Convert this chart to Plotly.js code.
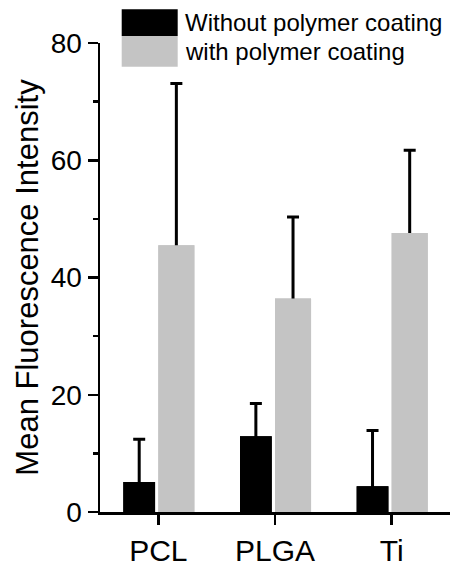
<!DOCTYPE html>
<html>
<head>
<meta charset="utf-8">
<script src="https://cdn.plot.ly/plotly-3.0.1.min.js"></script>
<style>html,body{margin:0;padding:0;background:#fff;}#chart{width:450px;height:565px;}</style>
</head>
<body>
<div id="chart"></div>
<script>
const categories = ['PCL', 'PLGA', 'Ti'];
const seriesNames = ['Without polymer coating', 'with polymer coating'];
const withoutValues = [5.1, 12.9, 4.4];
const withoutErrors = [7.3, 5.6, 9.5];
const withValues = [45.5, 36.4, 47.6];
const withErrors = [27.6, 13.9, 14.1];
const yTickValues = [0, 20, 40, 60, 80];

const FONT = 'Liberation Sans, Arial, sans-serif';
const BLACK = '#000000';
const GRAY = '#c4c4c4';

const blackGeom = {offset: -0.30, width: 0.272};
const grayGeom = {offset: 0.0, width: 0.309};

function errBar(plus, minus) {
  return {type: 'data', symmetric: false, array: plus, arrayminus: minus,
          color: BLACK, thickness: 3, width: 6};
}

const traces = [
  // bars carrying error bars (stems reach down to the axis, hidden by overlay bars)
  Object.assign({type: 'bar', x: categories, y: withoutValues, name: seriesNames[0],
    marker: {color: BLACK}, error_y: errBar(withoutErrors, withoutValues), showlegend: false, hoverinfo: 'skip'}, blackGeom),
  Object.assign({type: 'bar', x: categories, y: withValues, name: seriesNames[1],
    marker: {color: GRAY}, error_y: errBar(withErrors, withValues), showlegend: false, hoverinfo: 'skip'}, grayGeom),
  // overlay bars
  Object.assign({type: 'bar', x: categories, y: withoutValues, name: seriesNames[0],
    marker: {color: BLACK}, showlegend: false}, blackGeom),
  Object.assign({type: 'bar', x: categories, y: withValues, name: seriesNames[1],
    marker: {color: GRAY}, showlegend: false}, grayGeom)
];

const layout = {
  width: 450, height: 565,
  margin: {l: 100, r: 0, t: 43, b: 53, pad: 0},
  paper_bgcolor: '#ffffff', plot_bgcolor: '#ffffff',
  font: {family: FONT, color: BLACK, size: 28},
  barmode: 'overlay',
  showlegend: false,
  xaxis: {
    type: 'category', range: [-0.5, 2.5],
    showline: true, linecolor: BLACK, linewidth: 2.5,
    ticks: 'outside', ticklen: 10, tickwidth: 2.5, tickcolor: BLACK,
    showgrid: false, zeroline: false, automargin: false,
    tickfont: {family: FONT, size: 30, color: BLACK}
  },
  yaxis: {
    range: [0, 80], tickvals: yTickValues, ticktext: yTickValues.map(String),
    showline: true, linecolor: BLACK, linewidth: 2.5,
    ticks: 'outside', ticklen: 10, tickwidth: 2.5, tickcolor: BLACK,
    minor: {dtick: 10, ticks: 'outside', ticklen: 5, tickwidth: 2.5, tickcolor: BLACK, showgrid: false},
    showgrid: false, zeroline: false, automargin: false,
    tickfont: {family: FONT, size: 28, color: BLACK},
    title: {text: 'Mean Fluorescence Intensity', font: {family: FONT, size: 31, color: BLACK}, standoff: 3}
  },
  shapes: [
    {type: 'rect', xref: 'paper', yref: 'paper', x0: 0.062, x1: 0.222, y0: 1.0149, y1: 1.0719,
     fillcolor: BLACK, line: {width: 0}},
    {type: 'rect', xref: 'paper', yref: 'paper', x0: 0.062, x1: 0.222, y0: 0.9495, y1: 1.0149,
     fillcolor: GRAY, line: {width: 0}}
  ],
  annotations: [
    {text: seriesNames[0], xref: 'paper', yref: 'paper', x: 0.236, y: 1.043, xanchor: 'left', yanchor: 'middle',
     showarrow: false, font: {family: FONT, size: 24, color: BLACK}},
    {text: seriesNames[1], xref: 'paper', yref: 'paper', x: 0.236, y: 0.981, xanchor: 'left', yanchor: 'middle',
     showarrow: false, font: {family: FONT, size: 24, color: BLACK}}
  ]
};

Plotly.newPlot('chart', traces, layout, {displayModeBar: false, staticPlot: true});
</script>
</body>
</html>
